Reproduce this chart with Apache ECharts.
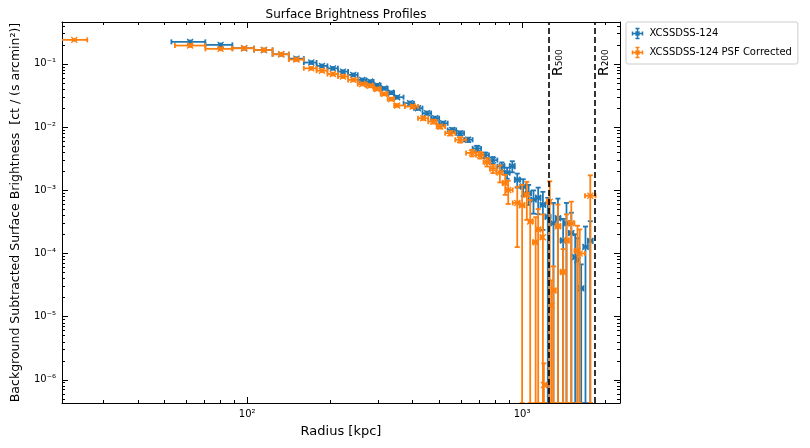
<!DOCTYPE html>
<html><head><meta charset="utf-8">
<script src="https://cdn.jsdelivr.net/npm/echarts@6/dist/echarts.min.js"></script>
<style>html,body{margin:0;padding:0;background:#fff}#c{width:810px;height:448px}</style>
</head><body><div id="c"></div>
<script>
const blueR = [62,80,97.5,115,133,151,171,187,205,223,243,262,280,297,315,334,351,391,418,451,483,516,557,595,636,686,733,783,844,882,921,960,1009,1056,1100,1144,1190,1240,1300,1350,1410,1450,1510,1560,1590,1640,1700,1770];
const blueY = [0.223,0.20,0.177,0.166,0.142,0.121,0.105,0.093,0.085,0.0755,0.067,0.0558,0.0525,0.046,0.041,0.035,0.0297,0.0239,0.0199,0.0166,0.0138,0.0115,0.0090,0.0080,0.0063,0.0046,0.0036,0.0030,0.0024,0.0019,0.0024,0.00147,0.00115,0.0009,0.00071,0.00076,0.00059,0.00038,0.0003,0.00036,0.00016,0.0003,0.00021,0.0000875,0.000079,0.000028,0.000127,0.000158];
const blueRelErr = [0.05,0.05,0.05,0.05,0.05,0.05,0.05,0.05,0.05,0.05,0.05,0.05,0.05,0.05,0.05,0.05,0.05,0.06,0.06,0.06,0.06,0.06,0.07,0.07,0.08,0.1,0.1,0.12,0.15,0.2,0.2,0.25,0.3,0.35,0.4,0.45,0.6,1.0,1.1,1.05,1.2,1.1,1.1,1.3,1.2,1.4,1.1,1.05];
const orangeR = [23.5,62,80,97.5,115,133,151,171,187,205,223,243,262,280,297,315,334,351,400,437,475,503,548,595,657,703,745,783,830,868,890,960,1000,1040,1070,1120,1144,1190,1200,1260,1280,1300,1350,1410,1450,1510,1590,1620,1770];
const orangeY = [0.24,0.195,0.173,0.177,0.166,0.142,0.117,0.085,0.078,0.069,0.063,0.0558,0.048,0.045,0.040,0.0335,0.0277,0.022,0.0211,0.0138,0.0122,0.0102,0.0080,0.0063,0.0039,0.0036,0.0028,0.0022,0.0019,0.0013,0.00101,0.00063,0.00058,0.00085,0.00032,0.00015,0.00024,0.00018,0.00000083,0.00066,0.000015,0.000026,0.00027,0.000051,0.00016,0.0003,0.00011,0.0001,0.00082];
const orangeRelErr = [0.03,0.05,0.05,0.05,0.05,0.05,0.05,0.05,0.05,0.05,0.05,0.05,0.05,0.05,0.05,0.05,0.05,0.05,0.06,0.06,0.07,0.07,0.08,0.1,0.12,0.12,0.15,0.15,0.3,0.35,0.4,0.8,1.1,0.6,1.2,1.5,1.1,1.3,1.2,1.1,1.5,1.4,1.2,1.3,1.6,1.2,1.5,1.4,1.1];
const orangeCoreBin = [21, 26.2];
const blueFirstLo = 53;
const xTickLabels = {'2':'10²','3':'10³'};
const yTickLabels = {'-1':'10⁻¹','-2':'10⁻²','-3':'10⁻³','-4':'10⁻⁴','-5':'10⁻⁵','-6':'10⁻⁶'};
const R500 = 1253, R200 = 1841;
const names = ['XCSSDSS-124','XCSSDSS-124 PSF Corrected'];
const colors = ['#1f77b4','#ff7f0e'];

function build(R, Y, E, firstLo, firstHi){
  return R.map((r,i)=>{
    let lo = i>0 ? Math.sqrt(R[i-1]*r) : firstLo;
    let hi = i<R.length-1 ? Math.sqrt(R[i+1]*r) : r*r/Math.sqrt(R[i-1]*r);
    if(i===0 && firstHi) hi = firstHi;
    if(i===1 && firstHi) lo = r*r/Math.sqrt(R[2]*r);
    const e = Y[i]*E[i];
    return [r, Y[i], lo, hi, Y[i]-e, Y[i]+e];
  });
}
const blueData = build(blueR, blueY, blueRelErr, blueFirstLo);
const orangeData = build(orangeR, orangeY, orangeRelErr, orangeCoreBin[0], orangeCoreBin[1]);

function renderErr(color){
  return function(params, api){
    const cs = params.coordSys;
    const x=api.value(0), y=api.value(1);
    const p = api.coord([x,y]);
    const pl = api.coord([api.value(2), y]);
    const ph = api.coord([api.value(3), y]);
    const yl = api.value(4);
    let pyl = yl>0 ? api.coord([x,yl])[1] : cs.y+cs.height;
    pyl = Math.min(pyl, cs.y+cs.height);
    const pyh = api.coord([x, api.value(5)])[1];
    const st = {stroke: color, lineWidth: 1.8};
    const c = 2.5, m = 3;
    const ch = [
      {type:'line', shape:{x1:pl[0],y1:p[1],x2:ph[0],y2:p[1]}, style:st},
      {type:'line', shape:{x1:pl[0],y1:p[1]-c,x2:pl[0],y2:p[1]+c}, style:st},
      {type:'line', shape:{x1:ph[0],y1:p[1]-c,x2:ph[0],y2:p[1]+c}, style:st},
      {type:'line', shape:{x1:p[0],y1:pyl,x2:p[0],y2:pyh}, style:st},
      {type:'line', shape:{x1:p[0]-c,y1:pyh,x2:p[0]+c,y2:pyh}, style:st},
      {type:'line', shape:{x1:p[0]-c,y1:pyl,x2:p[0]+c,y2:pyl}, style:st},
      {type:'line', shape:{x1:p[0]-m,y1:p[1]-m,x2:p[0]+m,y2:p[1]+m}, style:{stroke:color,lineWidth:1.3}},
      {type:'line', shape:{x1:p[0]-m,y1:p[1]+m,x2:p[0]+m,y2:p[1]-m}, style:{stroke:color,lineWidth:1.3}}
    ];
    return {type:'group', children: ch};
  };
}
const icon = 'path://M0,5L10,5M0,3L0,7M10,3L10,7M5,0L5,10M3,0L7,0M3,10L7,10M3,3L7,7M3,7L7,3';
function lab(v, map){ const l = Math.log10(v); return Math.abs(l-Math.round(l))<1e-6 ? (map[String(Math.round(l))]||'') : ''; }
const chart = echarts.init(document.getElementById('c'));
const axBase = {type:'log', logBase:10, axisLine:{show:true,onZero:false,lineStyle:{color:'#000'}},
  axisTick:{inside:true,length:6,lineStyle:{color:'#000'}}, minorTick:{show:true,splitNumber:9,length:3,lineStyle:{color:'#000'}}, splitLine:{show:false}};
chart.setOption({
  animation:false,
  title:{text:'Surface Brightness Profiles', left:341, top:4, textAlign:'center', textStyle:{fontSize:12,fontWeight:'normal',fontFamily:'DejaVu Sans',color:'#000'}},
  legend:{orient:'vertical', left:626, top:22, itemGap:4, itemWidth:14, itemHeight:10,
    data:names.map((n,i)=>({name:n, icon:icon, itemStyle:{color:'none', borderColor:colors[i], borderWidth:1.5}})),
    textStyle:{fontSize:10,fontFamily:'DejaVu Sans',color:'#000'},
    borderColor:'#ccc', borderWidth:1, borderRadius:2, padding:[4,6,4,4]},
  grid:{left:62, right:190, top:22, bottom:45},
  xAxis:[Object.assign({}, axBase, {min:21.2, max:2270, position:'bottom',
      name:'Radius [kpc]', nameLocation:'middle', nameGap:22, nameTextStyle:{fontSize:13,fontFamily:'DejaVu Sans',color:'#000'},
      axisLabel:{color:'#000',fontSize:10,fontFamily:'DejaVu Sans', margin:6, formatter:v=>lab(v,xTickLabels)}}),
    Object.assign({}, axBase, {min:21.2, max:2270, position:'top', axisLabel:{show:false}})],
  yAxis:[Object.assign({}, axBase, {min:4.3e-7, max:0.46,
      name:'Background Subtracted Surface Brightness  [ct / (s arcmin²)]', nameLocation:'middle', nameGap:40,
      nameTextStyle:{fontSize:12.5,fontFamily:'DejaVu Sans',color:'#000'},
      axisLabel:{color:'#000',fontSize:10,fontFamily:'DejaVu Sans', margin:6, formatter:v=>lab(v,yTickLabels)}}),
    Object.assign({}, axBase, {min:4.3e-7, max:0.46, position:'right', axisLabel:{show:false}})],
  series:[
    {name:names[0], type:'custom', renderItem:renderErr(colors[0]), data:blueData, itemStyle:{color:colors[0]}, encode:{x:0,y:1}, clip:true,
      markLine:{silent:true, symbol:'none', label:{show:false}, lineStyle:{color:'#000',type:[6,3],width:1.6}, data:[{xAxis:R500},{xAxis:R200}]}},
    {name:names[1], type:'custom', renderItem:renderErr(colors[1]), data:orangeData, itemStyle:{color:colors[1]}, encode:{x:0,y:1}, clip:true}
  ]
});
const rl = (v, txt) => {
  const px = chart.convertToPixel({xAxisIndex:0}, v);
  return {type:'text', x:px+16, y:76, rotation:Math.PI/2,
    style:{text:txt, fontSize:14, fontFamily:'DejaVu Sans', fill:'#000', align:'left', verticalAlign:'bottom'}};
};
chart.setOption({graphic:[rl(R500,'R₅₀₀'), rl(R200,'R₂₀₀')]});
</script></body></html>
